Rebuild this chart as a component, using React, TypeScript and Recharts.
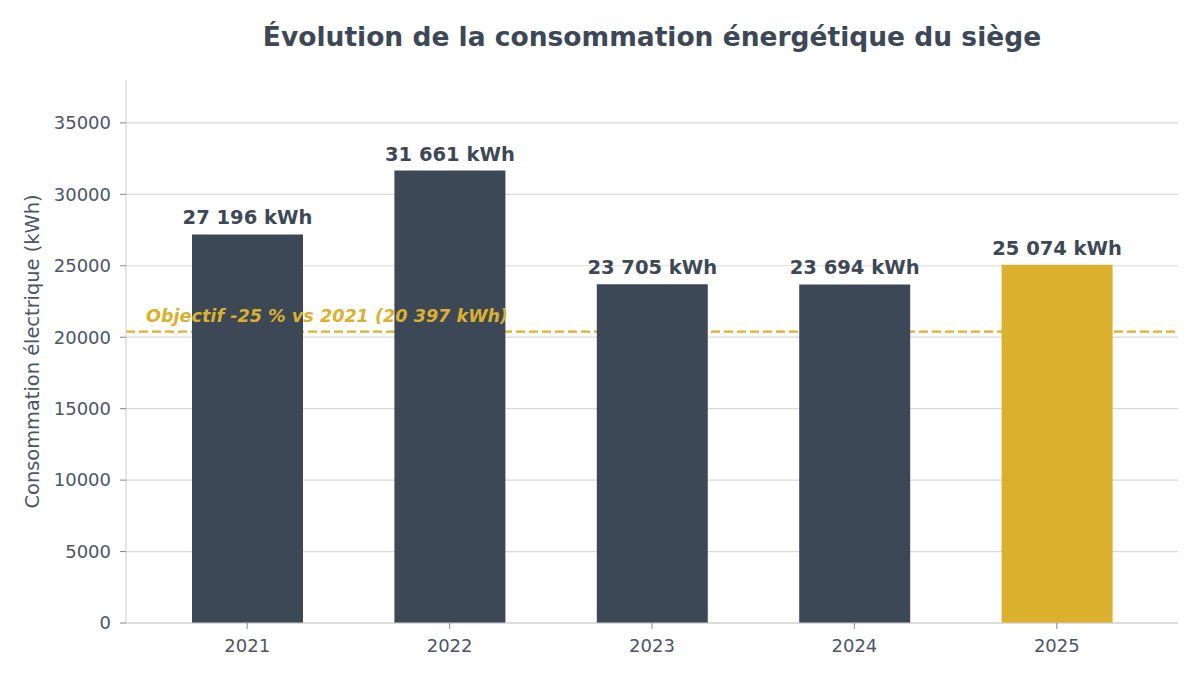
import {
  Bar,
  BarChart,
  CartesianGrid,
  Cell,
  LabelList,
  ReferenceLine,
  XAxis,
  YAxis,
} from "recharts";

const years = ["2021", "2022", "2023", "2024", "2025"];
const consumption = [27196, 31661, 23705, 23694, 25074];
const yTicks = [0, 5000, 10000, 15000, 20000, 25000, 30000, 35000];
const yMax = 38000;
const objective = 20397;
const highlightYear = "2025";

const DARK = "#3d4856";
const GOLD = "#dbb02d";
const FONT = "'DejaVu Sans', sans-serif";

const data = years.map((year, i) => ({ year, kwh: consumption[i] }));

const formatKwh = (v: number) =>
  String(v).replace(/\B(?=(\d{3})+(?!\d))/g, " ") + " kWh";

const ObjectiveLabel = (props: any) => {
  const { viewBox } = props;
  return (
    <text
      x={viewBox.x + 20}
      y={viewBox.y - 10}
      fill={GOLD}
      fontSize={17.6}
      fontWeight="bold"
      fontStyle="italic"
      fontFamily={FONT}
    >
      {`Objectif -25 % vs 2021 (${formatKwh(objective)})`}
    </text>
  );
};

const YLabel = (props: any) => {
  const { viewBox } = props;
  const x = viewBox.x + 16;
  const y = viewBox.y + viewBox.height / 2;
  return (
    <text
      x={x}
      y={y}
      transform={`rotate(-90, ${x}, ${y})`}
      textAnchor="middle"
      dominantBaseline="central"
      fill="#4a5568"
      fontSize={19.4}
      fontFamily={FONT}
    >
      Consommation électrique (kWh)
    </text>
  );
};

// grid only on the listed ticks, not on the top edge of the plot
const gridRows = ({ offset }: any) =>
  yTicks.map((t) => offset.top + offset.height * (1 - t / yMax));

export default function App() {
  return (
    <div
      style={{
        position: "fixed",
        top: 0,
        left: 0,
        width: 1200,
        height: 678,
        background: "#fff",
        fontFamily: FONT,
      }}
    >
      <div
        style={{
          position: "absolute",
          top: 22,
          left: 126,
          width: 1052,
          textAlign: "center",
          fontSize: 26.5,
          lineHeight: "30px",
          fontWeight: "bold",
          color: DARK,
        }}
      >
        Évolution de la consommation énergétique du siège
      </div>
      <BarChart
        width={1200}
        height={678}
        data={data}
        margin={{ top: 80, right: 22, bottom: 25, left: 16 }}
        style={{ position: "absolute", top: 0, left: 0 }}
      >
        <CartesianGrid
          vertical={false}
          stroke="#d9d9d9"
          strokeWidth={1.2}
          horizontalCoordinatesGenerator={gridRows}
        />
        <XAxis
          dataKey="year"
          padding={{ left: 20, right: 20 }}
          stroke="#cccccc"
          tickSize={6}
          tickMargin={10}
          tickLine={{ stroke: "#888888" }}
          tick={{ fill: "#4a5568", fontSize: 18, fontFamily: FONT }}
        />
        <YAxis
          width={110}
          domain={[0, yMax]}
          ticks={yTicks}
          interval={0}
          stroke="#cccccc"
          tickSize={6}
          tickMargin={9}
          tickLine={{ stroke: "#888888" }}
          tick={{ fill: "#4a5568", fontSize: 18, fontFamily: FONT }}
          label={<YLabel />}
        />
        <ReferenceLine
          y={objective}
          stroke={GOLD}
          strokeWidth={2.3}
          strokeDasharray="9 4"
          zIndex={200}
        />
        <Bar dataKey="kwh" barSize={111} isAnimationActive={false}>
          {data.map((d) => (
            <Cell key={d.year} fill={d.year === highlightYear ? GOLD : DARK} />
          ))}
          <LabelList
            dataKey="kwh"
            position="top"
            offset={10}
            formatter={(v: any) => formatKwh(Number(v))}
            fill={DARK}
            fontSize={19.5}
            fontWeight="bold"
            fontFamily={FONT}
          />
        </Bar>
        <ReferenceLine
          y={objective}
          stroke="none"
          label={<ObjectiveLabel />}
          zIndex={2000}
        />
      </BarChart>
    </div>
  );
}
